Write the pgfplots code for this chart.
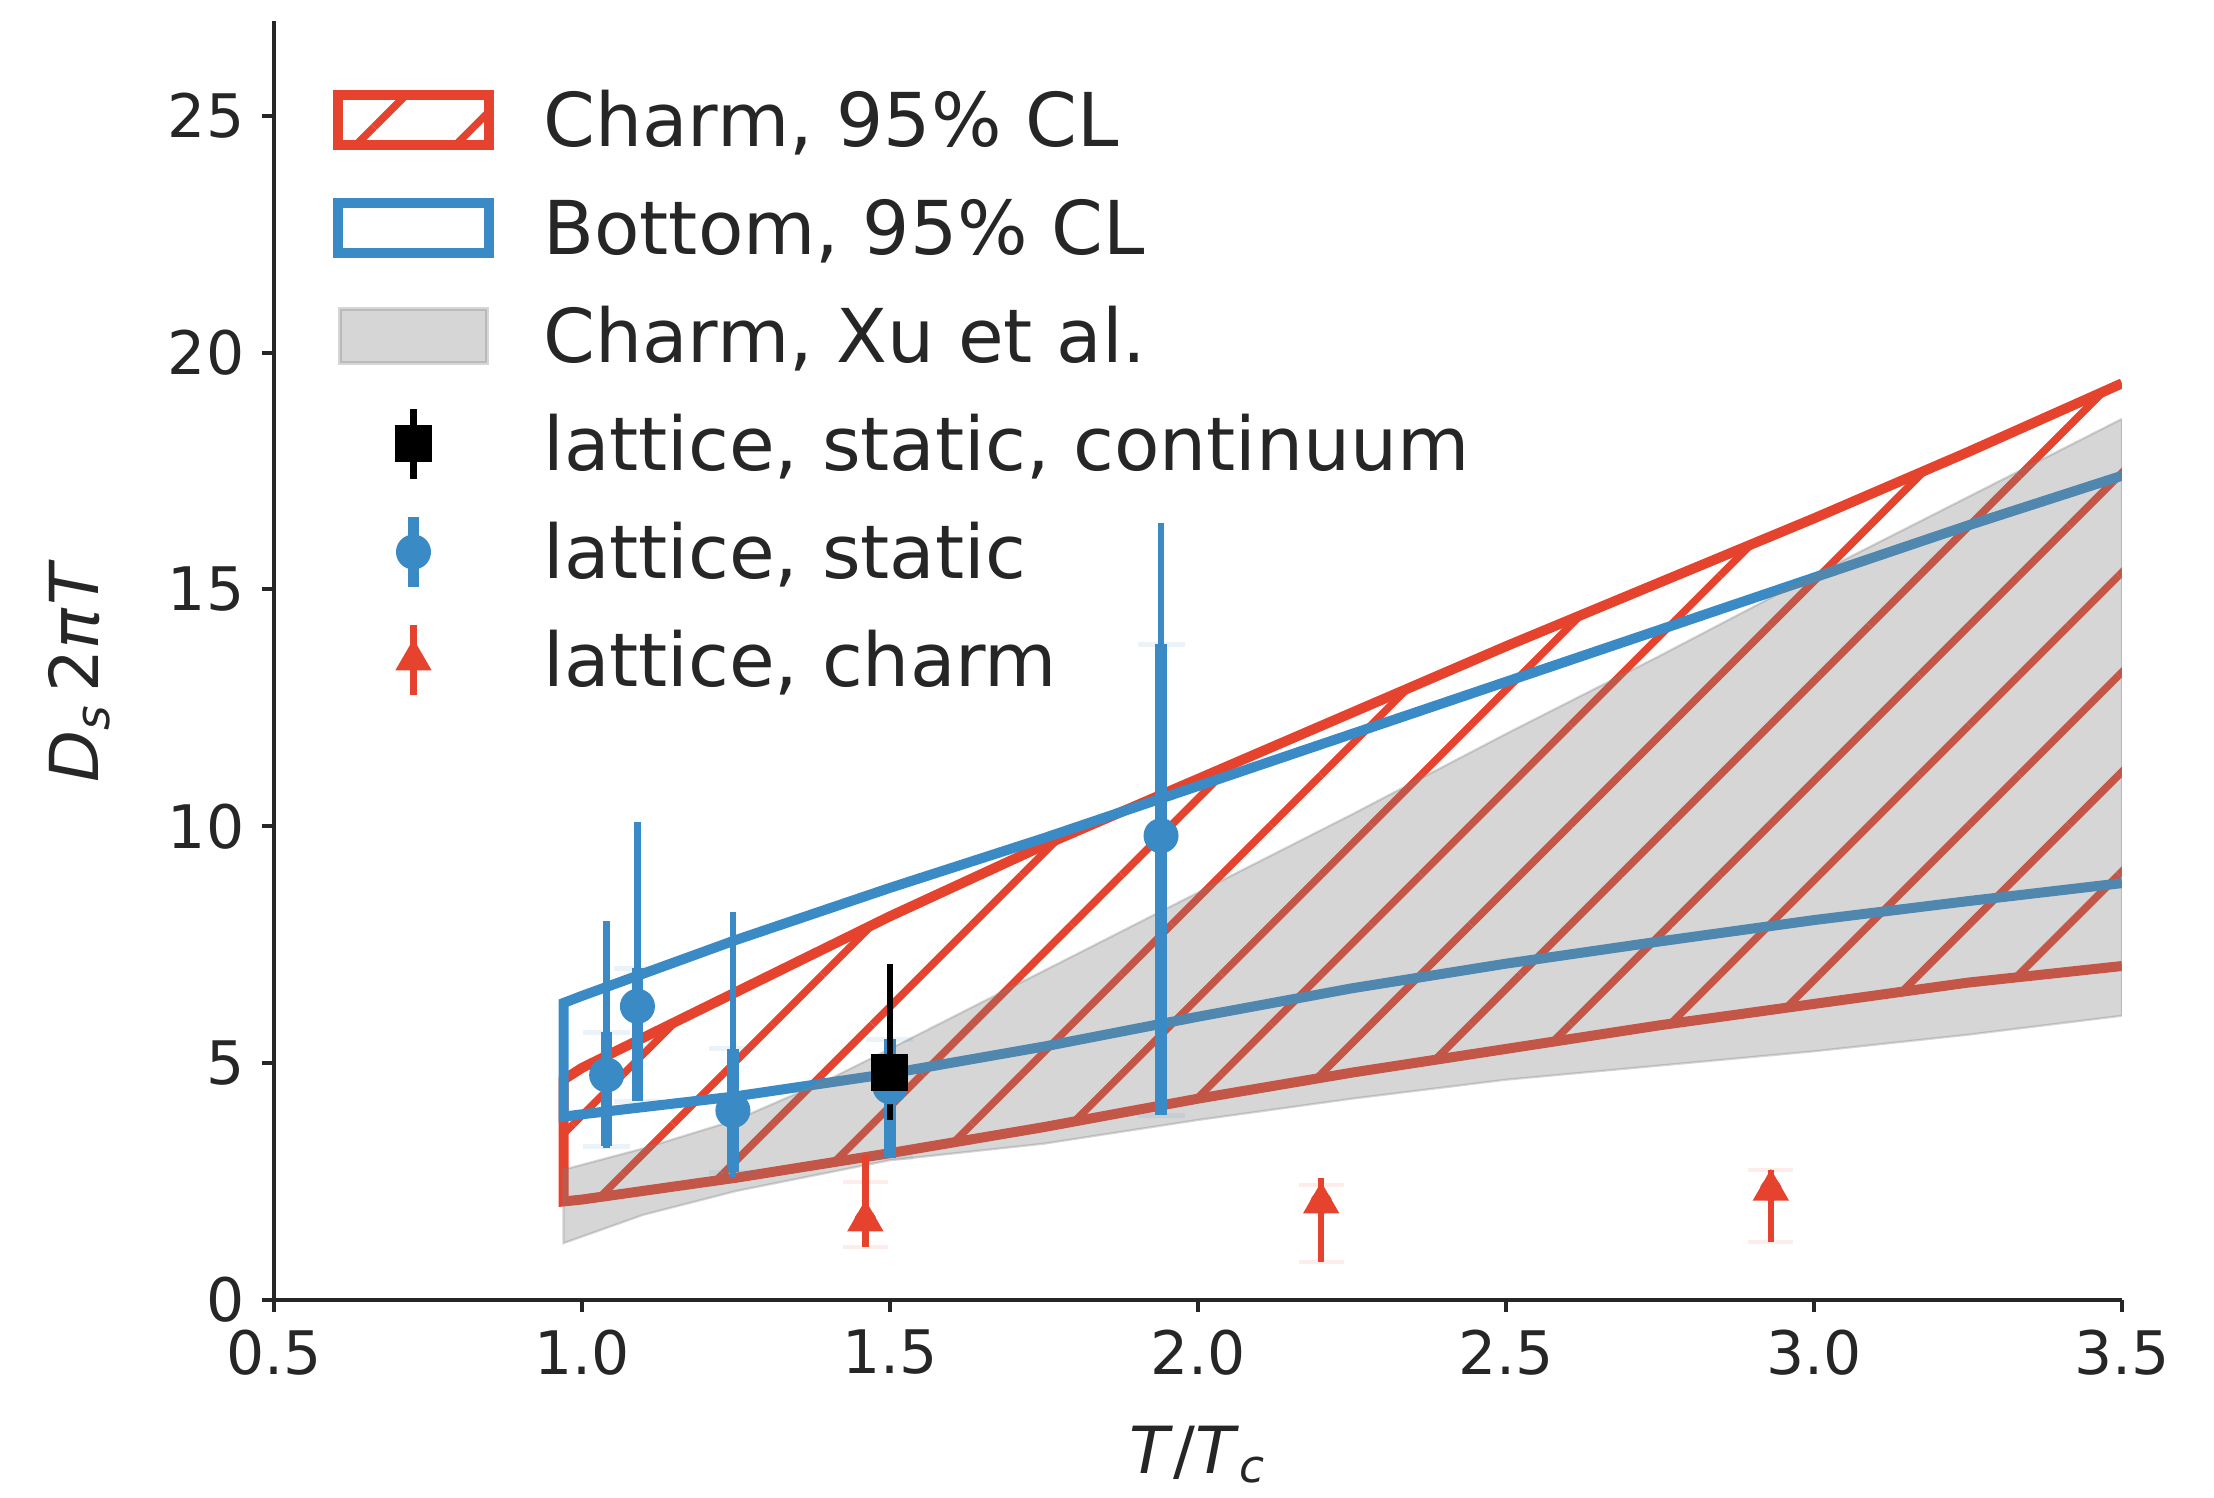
\documentclass[border=0pt]{standalone}
\usepackage{pgfplots}
\pgfplotsset{compat=1.18}
\usepackage{pgfplotstable}
\usetikzlibrary{patterns.meta}
\usepackage{fontspec}
\setmainfont{DejaVu Sans}

\definecolor{cred}{HTML}{E5432D}
\definecolor{cblue}{HTML}{3A8BC5}
\definecolor{txt}{HTML}{262626}

% Charm 95% CL band: upper edge right-to-left, then lower edge left-to-right
\pgfplotstableread{
x y
3.50 19.35
3.25 17.90
3.00 16.50
2.75 15.15
2.50 13.80
2.25 12.40
2.00 11.00
1.75 9.60
1.50 8.10
1.25 6.50
1.00 4.90
0.97 4.65
0.97 2.08
1.00 2.12
1.25 2.58
1.50 3.10
1.75 3.65
2.00 4.25
2.25 4.80
2.50 5.30
2.75 5.80
3.00 6.25
3.25 6.70
3.50 7.05
}\charmband

% Bottom 95% CL band
\pgfplotstableread{
x y
3.50 17.40
3.25 16.35
3.00 15.25
2.75 14.15
2.50 13.05
2.25 11.95
2.00 10.85
1.75 9.75
1.50 8.70
1.25 7.60
1.00 6.42
0.97 6.27
0.97 3.87
1.00 3.92
1.25 4.30
1.50 4.78
1.75 5.35
2.00 5.98
2.25 6.58
2.50 7.10
2.75 7.57
3.00 8.02
3.25 8.42
3.50 8.80
}\bottomband

% Charm, Xu et al.
\pgfplotstableread{
x y
3.50 18.60
3.25 16.95
3.00 15.30
2.75 13.60
2.50 11.95
2.25 10.25
2.00 8.60
1.75 6.95
1.50 5.30
1.40 4.65
1.25 3.80
1.10 3.20
0.97 2.75
0.97 1.20
1.10 1.80
1.25 2.30
1.50 2.95
1.75 3.30
2.00 3.80
2.25 4.25
2.50 4.65
2.75 4.95
3.00 5.25
3.25 5.60
3.50 6.00
}\xuband

% lattice, static: outer (op/om) and inner (ip/im) uncertainties
\pgfplotstableread{
x y op om ip im
1.040 4.75 3.25 1.55 0.90 1.50
1.090 6.20 3.90 2.00 0.80 2.00
1.245 4.00 4.20 1.40 1.30 1.30
1.500 4.50 2.50 1.50 1.00 1.50
1.940 9.80 6.60 5.90 4.04 5.90
}\staticdata

% lattice, static, continuum
\pgfplotstableread{
x y ep em
1.50 4.80 2.30 1.00
}\contdata

% lattice, charm
\pgfplotstableread{
x y ep em cp cm
1.46 1.67 1.40 0.55 0.83 0.55
2.20 2.05 0.53 1.25 0.38 1.25
2.93 2.32 0.43 1.10 0.43 1.10
}\charmdata

\begin{document}
\begin{tikzpicture}
\begin{axis}[
  at={(0pt,0pt)}, anchor=south west,
  scale only axis, width=369.6pt, height=255.8pt,
  xmin=0.5, xmax=3.5, ymin=0, ymax=27,
  axis x line*=bottom, axis y line*=left,
  axis line style={line width=0.8pt, black!85},
  tick align=outside,
  major tick length=2.4pt,
  major tick style={line width=0.8pt, black!85},
  xtick={0.5,1,1.5,2,2.5,3,3.5},
  ytick={0,5,10,15,20,25},
  minor tick num=0,
  /pgf/number format/assume math mode=true,
  tick label style={font=\fontsize{12}{14}\selectfont, text=txt},
  xticklabel style={/pgf/number format/.cd, fixed, fixed zerofill, precision=1},
  yticklabel style={/pgf/number format/.cd, fixed, precision=0},
  xlabel={\fontsize{13}{15}\selectfont\textit{T}/\textit{T}\textsubscript{\textit{c}}},
  ylabel={\fontsize{13.5}{15}\selectfont\textit{D}\textsubscript{\textit{s}}\hspace{0.15em}2\textit{π}\hspace{0.05em}\textit{T}},
  every axis x label/.style={at={(axis description cs:0.5,0)}, anchor=north,
    yshift=-25pt, inner sep=0pt, text=txt},
  every axis y label/.style={at={(axis description cs:-0.1055,0.492)}, anchor=center,
    rotate=90, inner sep=0pt, text=txt},
  legend cell align=left,
  legend style={at={(axis description cs:0,1)}, anchor=north west,
    xshift=11.8pt, yshift=-9pt, draw=none, fill=none,
    inner sep=0pt, outer sep=0pt, row sep=0pt, column sep=9.9pt,
    font=\fontsize{14.85}{17}\selectfont, text=txt,
    nodes={inner sep=0pt, text height=16.2pt, text depth=5.4pt}},
]

% hatched charm band
\addplot[draw=none, forget plot,
  pattern={Lines[angle=45, distance=14.1pt, line width=1.5pt]}, pattern color=cred]
  table {\charmband} -- cycle;
\addplot[cred, line width=2pt, line join=miter, forget plot] table {\charmband};

% bottom band outline
\addplot[cblue, line width=2pt, line join=miter, forget plot] table {\bottomband};

% Xu et al. band
\addplot[fill=gray, draw=gray, opacity=0.32, line width=0.45pt, forget plot]
  table {\xuband} -- cycle;

% lattice, static
\addplot[cblue, only marks, mark=none, forget plot,
  error bars/.cd, y dir=both, y explicit,
  error bar style={line width=1.3pt}, error mark=none]
  table[x=x, y=y, y error plus=op, y error minus=om] {\staticdata};
\addplot[cblue, only marks, mark=none, forget plot,
  error bars/.cd, y dir=both, y explicit,
  error bar style={line width=2.3pt},
  error mark options={rotate=90, mark size=4.7pt, line width=1pt, opacity=0.1}]
  table[x=x, y=y, y error plus=ip, y error minus=im] {\staticdata};
\addplot[cblue, only marks, mark=*, mark size=3.3pt, forget plot]
  table[x=x, y=y] {\staticdata};

% lattice, static, continuum
\addplot[black, only marks, mark=square*, mark size=3.5pt, forget plot,
  error bars/.cd, y dir=both, y explicit,
  error bar style={line width=1.3pt}, error mark=none]
  table[x=x, y=y, y error plus=ep, y error minus=em] {\contdata};

% lattice, charm
\addplot[cred, only marks, mark=none, forget plot,
  error bars/.cd, y dir=both, y explicit,
  error bar style={line width=1.3pt},
  error mark options={rotate=90, mark size=4.5pt, line width=0.8pt, opacity=0.1}]
  table[x=x, y=y, y error plus=cp, y error minus=cm] {\charmdata};
\addplot[cred, only marks, mark=triangle*, mark size=3.8pt, forget plot,
  error bars/.cd, y dir=both, y explicit,
  error bar style={line width=1.3pt}, error mark=none]
  table[x=x, y=y, y error plus=ep, y error minus=em] {\charmdata};

% legend
\addlegendimage{legend image code/.code={
  \draw[cred, line width=2pt, line join=miter,
    pattern={Lines[angle=45, distance=14.1pt, line width=1.5pt]}, pattern color=cred]
    (0pt,-5.05pt) rectangle (30.2pt,5.05pt);}}
\addlegendentry{Charm, 95\% CL}
\addlegendimage{legend image code/.code={
  \draw[cblue, line width=2pt, line join=miter] (0pt,-5.05pt) rectangle (30.2pt,5.05pt);}}
\addlegendentry{Bottom, 95\% CL}
\addlegendimage{legend image code/.code={
  \draw[fill=gray, draw=gray, opacity=0.32, line width=0.8pt] (0.4pt,-5.4pt) rectangle (29.8pt,5.4pt);}}
\addlegendentry{Charm, Xu et al.}
\addlegendimage{legend image code/.code={
  \draw[black, line width=1.3pt] (15.1pt,-7pt) -- (15.1pt,7pt);
  \fill[black] (11.6pt,-3.5pt) rectangle (18.6pt,3.5pt);}}
\addlegendentry{lattice, static, continuum}
\addlegendimage{legend image code/.code={
  \draw[cblue, line width=2.3pt] (15.1pt,-7pt) -- (15.1pt,7pt);
  \fill[cblue] (15.1pt,0pt) circle (3.3pt);}}
\addlegendentry{lattice, static}
\addlegendimage{legend image code/.code={
  \draw[cred, line width=1.3pt] (15.1pt,-7pt) -- (15.1pt,7pt);
  \fill[cred] (15.1pt,3.8pt) -- (11.8pt,-1.9pt) -- (18.4pt,-1.9pt) -- cycle;}}
\addlegendentry{lattice, charm}
\end{axis}
\pgfresetboundingbox
\path[use as bounding box] (-54.8pt,-39.6pt) rectangle (388pt,260pt);
\end{tikzpicture}
\end{document}
